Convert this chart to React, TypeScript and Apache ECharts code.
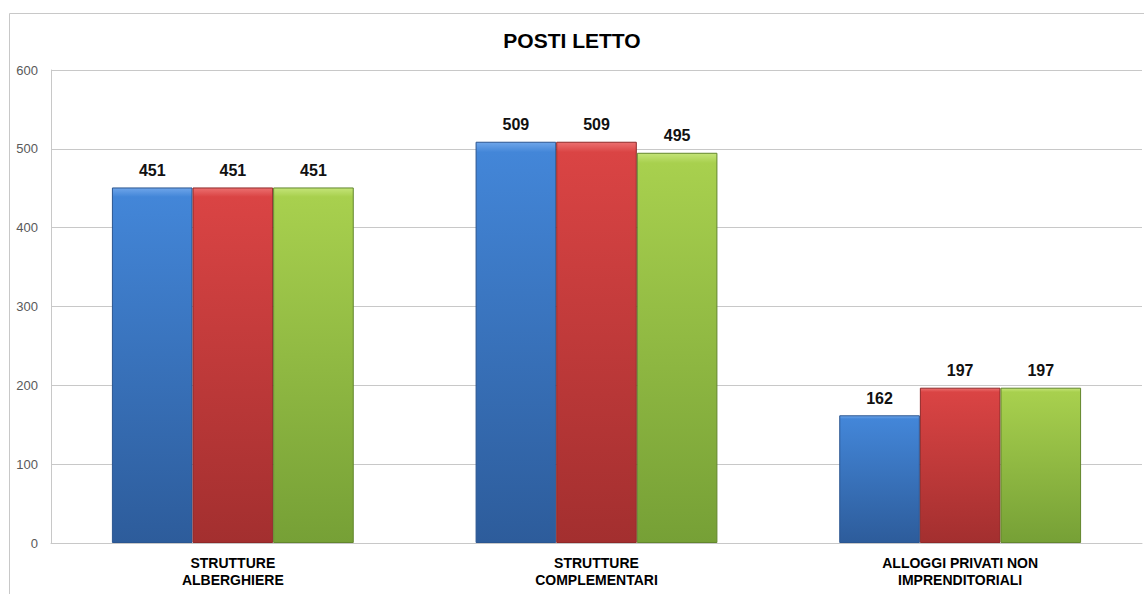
import React, { useEffect, useRef } from "react";
import * as echarts from "echarts";

const categories = ["STRUTTURE\nALBERGHIERE", "STRUTTURE\nCOMPLEMENTARI", "ALLOGGI PRIVATI NON\nIMPRENDITORIALI"];
const seriesBlue = [451, 509, 162];
const seriesRed = [451, 509, 197];
const seriesGreen = [451, 495, 197];
const yTicks = { min: 0, max: 600, interval: 100 };
const titleText = "POSTI LETTO";

const FONT = "'Liberation Sans', Arial, sans-serif";

function grad(top: string, mid: string, bottom: string) {
  return new echarts.graphic.LinearGradient(0, 0, 0, 1, [
    { offset: 0, color: top },
    { offset: 0.025, color: mid },
    { offset: 1, color: bottom },
  ]);
}

export default function App() {
  const ref = useRef<HTMLDivElement>(null);
  useEffect(() => {
    if (!ref.current) return;
    const chart = echarts.init(ref.current, null, { renderer: "svg" });
    const mkSeries = (name: string, data: number[], top: string, mid: string, bottom: string, border: string) => ({
      name,
      type: "bar",
      data,
      barGap: "0%",
      barCategoryGap: "33.5%",
      itemStyle: { color: grad(top, mid, bottom), borderColor: border, borderWidth: 1 },
      label: {
        show: true,
        position: "top",
        distance: 9,
        fontFamily: FONT,
        fontWeight: "bold",
        fontSize: 16,
        color: "#111",
      },
    });
    chart.setOption({
      animation: false,
      backgroundColor: "#fff",
      title: {
        text: titleText,
        left: "center",
        top: 25,
        textStyle: { fontFamily: FONT, fontWeight: "bold", fontSize: 21, color: "#000" },
      },
      graphic: [
        {
          type: "rect",
          shape: { x: 9.5, y: 13.5, width: 1200, height: 700 },
          style: { fill: "none", stroke: "#c8c8c8", lineWidth: 1 },
          silent: true,
          z: -1,
        },
      ],
      grid: { left: 51, right: 2, top: 70, bottom: 51, containLabel: false },
      xAxis: {
        type: "category",
        data: categories,
        axisLine: { lineStyle: { color: "#c8c8c8" } },
        axisTick: { show: false },
        axisLabel: {
          fontFamily: FONT,
          fontWeight: "bold",
          fontSize: 14,
          color: "#000",
          lineHeight: 17,
          margin: 11,
          interval: 0,
        },
      },
      yAxis: {
        type: "value",
        min: yTicks.min,
        max: yTicks.max,
        interval: yTicks.interval,
        axisLine: { show: true, lineStyle: { color: "#c8c8c8" } },
        axisTick: { show: false },
        splitLine: { lineStyle: { color: "#c8c8c8" } },
        axisLabel: {
          fontFamily: FONT,
          fontSize: 13,
          color: "#595959",
          margin: 13,
        },
      },
      series: [
        mkSeries("A", seriesBlue, "#6fa6ea", "#4386d8", "#2d5c9b", "#2a5590"),
        mkSeries("B", seriesRed, "#ec7070", "#da4444", "#a32f2f", "#8f2828"),
        mkSeries("C", seriesGreen, "#c4e478", "#a8d04e", "#76a036", "#62862c"),
      ],
    });
    return () => chart.dispose();
  }, []);
  return (
    <div
      ref={ref}
      style={{ position: "absolute", left: 0, top: 0, width: 1144, height: 594, background: "#fff" }}
    />
  );
}
